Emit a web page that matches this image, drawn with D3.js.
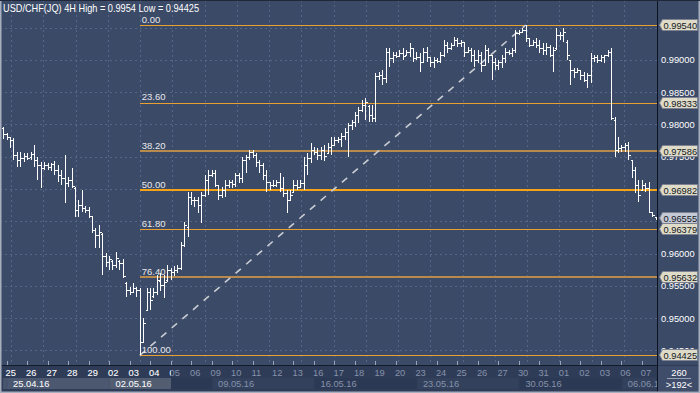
<!DOCTYPE html>
<html><head><meta charset="utf-8">
<script src="https://cdn.jsdelivr.net/npm/d3@7"></script>
<style>html,body{margin:0;padding:0;background:#3b4a67;overflow:hidden}</style>
</head><body><svg id="c" width="700" height="393"></svg>
<script>
const title = "USD/CHF(JQ) 4H High = 0.9954 Low = 0.94425";
const opens = [
0.97944,0.97851,0.97805,0.97758,0.97526,0.97449,0.97480,0.97511,0.97495,0.97542,
0.97449,0.97371,0.97325,0.97371,0.97340,0.97387,0.97294,0.97216,0.97170,0.97092,
0.97139,0.97015,0.96674,0.96752,0.96705,0.96674,0.96581,0.96364,0.96287,0.96302,
0.95962,0.95869,0.95884,0.95822,0.95884,0.95853,0.95543,0.95435,0.95404,0.95466,
0.95435,0.94629,0.95125,0.95404,0.95342,0.95404,0.95574,0.95512,0.95590,0.95745,
0.95714,0.95745,0.95776,0.96132,0.96411,0.96876,0.96829,0.96829,0.96752,0.96906,
0.97139,0.97216,0.97247,0.97061,0.96906,0.96984,0.97061,0.97108,0.97077,0.97216,
0.97170,0.97449,0.97495,0.97573,0.97526,0.97418,0.97371,0.97216,0.97108,0.97061,
0.97061,0.97108,0.97015,0.96937,0.96829,0.96953,0.97061,0.97030,0.97092,0.97371,
0.97480,0.97604,0.97573,0.97526,0.97604,0.97557,0.97650,0.97681,0.97758,0.97774,
0.97820,0.97882,0.97991,0.98037,0.98146,0.98223,0.98301,0.98285,0.98146,0.98099,
0.98750,0.98765,0.98719,0.99122,0.99029,0.99075,0.99060,0.99106,0.99075,0.99122,
0.99184,0.99029,0.99044,0.98967,0.99122,0.99044,0.98967,0.98998,0.98982,0.99075,
0.99230,0.99184,0.99230,0.99307,0.99261,0.99276,0.99122,0.99153,0.99075,0.98998,
0.99075,0.98920,0.99153,0.99075,0.98967,0.98920,0.98967,0.99029,0.99122,0.99106,
0.99153,0.99416,0.99431,0.99462,0.99338,0.99230,0.99276,0.99230,0.99184,0.99153,
0.99199,0.99075,0.99184,0.99385,0.99385,0.99276,0.98998,0.98843,0.98812,0.98843,
0.98765,0.98688,0.98765,0.99029,0.99044,0.98998,0.99044,0.99075,0.99122,0.98068,
0.97604,0.97635,0.97650,0.97681,0.97449,0.97294,0.97061,0.96984,0.97061,0.97015,
0.96643,0.96566];
const highs = [
0.97960,0.97867,0.97805,0.97789,0.97573,0.97573,0.97557,0.97557,0.97573,0.97681,
0.97495,0.97418,0.97418,0.97402,0.97402,0.97433,0.97371,0.97294,0.97526,0.97185,
0.97325,0.97030,0.96829,0.96984,0.96736,0.96721,0.96581,0.96395,0.96442,0.96318,
0.96008,0.95962,0.95900,0.96024,0.95900,0.95915,0.95559,0.95481,0.95543,0.95481,
0.95466,0.95001,0.95466,0.95466,0.95466,0.95667,0.95698,0.95667,0.95822,0.95776,
0.95807,0.95822,0.96178,0.96488,0.96953,0.96953,0.96876,0.96876,0.96953,0.97216,
0.97294,0.97294,0.97294,0.97061,0.97030,0.97139,0.97139,0.97139,0.97247,0.97247,
0.97495,0.97526,0.97604,0.97604,0.97557,0.97449,0.97402,0.97294,0.97108,0.97139,
0.97139,0.97247,0.97185,0.96984,0.96984,0.97139,0.97139,0.97139,0.97495,0.97557,
0.97712,0.97650,0.97635,0.97650,0.97681,0.97712,0.97805,0.97805,0.97805,0.97867,
0.97944,0.98022,0.98068,0.98192,0.98270,0.98378,0.98409,0.98301,0.98301,0.98796,
0.98812,0.98843,0.99184,0.99184,0.99122,0.99122,0.99153,0.99184,0.99153,0.99261,
0.99184,0.99122,0.99106,0.99184,0.99199,0.99044,0.99044,0.99029,0.99122,0.99307,
0.99276,0.99261,0.99354,0.99338,0.99307,0.99276,0.99199,0.99184,0.99153,0.99153,
0.99122,0.99230,0.99184,0.99075,0.99029,0.98998,0.99075,0.99184,0.99153,0.99184,
0.99462,0.99462,0.99493,0.99540,0.99338,0.99307,0.99338,0.99307,0.99261,0.99261,
0.99230,0.99199,0.99493,0.99431,0.99493,0.99307,0.98998,0.98874,0.98874,0.98843,
0.98812,0.98796,0.99106,0.99075,0.99075,0.99075,0.99075,0.99153,0.99184,0.98115,
0.97805,0.97681,0.97712,0.97727,0.97449,0.97340,0.97139,0.97139,0.97092,0.97108,
0.96643,0.96566];
const lows = [
0.97774,0.97758,0.97635,0.97449,0.97340,0.97340,0.97418,0.97449,0.97449,0.97340,
0.97139,0.97015,0.97294,0.97294,0.97278,0.97216,0.97108,0.97061,0.96783,0.97030,
0.97015,0.96566,0.96566,0.96643,0.96628,0.96550,0.96318,0.96086,0.96086,0.95667,
0.95791,0.95745,0.95745,0.95776,0.95745,0.95621,0.95327,0.95357,0.95388,0.95327,
0.94425,0.94629,0.95125,0.95125,0.95311,0.95357,0.95419,0.95311,0.95559,0.95590,
0.95652,0.95698,0.95745,0.96101,0.96256,0.96752,0.96721,0.96628,0.96473,0.96876,
0.96906,0.97185,0.97030,0.96829,0.96860,0.96876,0.97015,0.97015,0.97030,0.97092,
0.97092,0.97247,0.97449,0.97480,0.97340,0.97247,0.97139,0.96953,0.96984,0.97030,
0.97030,0.96953,0.96876,0.96628,0.96829,0.96953,0.96984,0.97015,0.96984,0.97216,
0.97402,0.97526,0.97449,0.97449,0.97433,0.97557,0.97526,0.97681,0.97712,0.97650,
0.97758,0.97495,0.97913,0.97960,0.98022,0.98192,0.98068,0.98037,0.98037,0.98037,
0.98688,0.98610,0.98641,0.98889,0.98951,0.99029,0.99044,0.98998,0.99075,0.99044,
0.98967,0.98998,0.98812,0.98951,0.98967,0.98889,0.98874,0.98951,0.98951,0.99044,
0.99106,0.99153,0.99230,0.99199,0.99199,0.99044,0.99106,0.98967,0.98889,0.98951,
0.98812,0.98920,0.98951,0.98688,0.98843,0.98843,0.98874,0.98951,0.99075,0.99044,
0.99106,0.99385,0.99416,0.99276,0.99199,0.99230,0.99184,0.99106,0.99075,0.99075,
0.99044,0.98812,0.99153,0.99307,0.99276,0.98998,0.98610,0.98719,0.98796,0.98688,
0.98657,0.98564,0.98641,0.98967,0.98951,0.98967,0.98951,0.99044,0.98068,0.97495,
0.97557,0.97573,0.97573,0.97449,0.97170,0.96937,0.96798,0.96984,0.96953,0.96628,
0.96566,0.96519];
const closes = [
0.97851,0.97805,0.97758,0.97526,0.97449,0.97480,0.97511,0.97480,0.97542,0.97449,
0.97371,0.97325,0.97371,0.97340,0.97387,0.97294,0.97216,0.97170,0.97092,0.97139,
0.97046,0.96674,0.96752,0.96705,0.96674,0.96581,0.96364,0.96287,0.96333,0.95962,
0.95869,0.95915,0.95822,0.95931,0.95853,0.95652,0.95435,0.95404,0.95466,0.95435,
0.94629,0.94924,0.95404,0.95280,0.95404,0.95590,0.95512,0.95559,0.95745,0.95714,
0.95745,0.95776,0.96132,0.96442,0.96876,0.96829,0.96829,0.96752,0.96906,0.97139,
0.97216,0.97247,0.97061,0.96906,0.96984,0.97061,0.97108,0.97077,0.97216,0.97170,
0.97449,0.97495,0.97573,0.97526,0.97418,0.97371,0.97216,0.97108,0.97061,0.97061,
0.97108,0.97015,0.96937,0.96829,0.96906,0.97061,0.97030,0.97092,0.97371,0.97480,
0.97604,0.97573,0.97526,0.97604,0.97511,0.97650,0.97681,0.97758,0.97774,0.97820,
0.97882,0.97991,0.98037,0.98146,0.98223,0.98301,0.98347,0.98146,0.98099,0.98750,
0.98765,0.98719,0.99122,0.99029,0.99075,0.99060,0.99106,0.99060,0.99122,0.99184,
0.99029,0.99044,0.98967,0.99122,0.99044,0.98967,0.98998,0.98982,0.99075,0.99230,
0.99184,0.99230,0.99307,0.99261,0.99276,0.99122,0.99153,0.99075,0.98998,0.99075,
0.98920,0.99153,0.99075,0.98967,0.98920,0.98967,0.99029,0.99122,0.99106,0.99153,
0.99416,0.99431,0.99462,0.99338,0.99230,0.99276,0.99230,0.99184,0.99153,0.99199,
0.99075,0.99153,0.99385,0.99385,0.99431,0.99075,0.98843,0.98812,0.98843,0.98765,
0.98688,0.98765,0.99029,0.99044,0.98998,0.99044,0.99075,0.99122,0.98099,0.97604,
0.97635,0.97650,0.97681,0.97526,0.97294,0.97061,0.96906,0.97061,0.97015,0.96643,
0.96597,0.96555];
const priceTicks = [0.945,0.950,0.955,0.960,0.965,0.970,0.975,0.980,0.985,0.990,0.995];
const fibLevels = ["0.00","23.60","38.20","50.00","61.80","76.40","100.00"];
const fibPrices = [0.99540,0.98333,0.97586,0.96982,0.96379,0.95632,0.94425];
const dayLabels = ["25","26","27","28","29","02","03","04","05","06","09","10","11","12","13","16","17","18","19","20","23","24","25","26","27","30","31","01","02","03","06","07"];
const weekLabels = ["25.04.16","02.05.16","09.05.16","16.05.16","23.05.16","30.05.16","06.06.16"];
const lastPrice = 0.96555;
const cornerTop = "260", cornerBottom = ">192<";

const svg = d3.select("#c");
const W = 700, H = 393, plotR = 657, plotB = 365;
const n = opens.length;
const lowIdx = lows.indexOf(d3.min(lows));
const highIdx = highs.indexOf(d3.max(highs));
const x = d3.scaleLinear().domain([0, n - 1]).range([3.2, 655.5]);
const y = d3.scaleLinear().domain([d3.min(lows), d3.max(highs)]).range([355.3, 25]);
const px = v => Math.round(v) + 0.5;
const FONT = "'Liberation Sans', Arial, sans-serif";

// backgrounds
svg.append("rect").attr("width", W).attr("height", H).attr("fill", "#3b4a67");
svg.append("rect").attr("x", 0).attr("y", plotB).attr("width", W).attr("height", H - plotB).attr("fill", "#2f3c58");

// grid
const grid = svg.append("g").attr("stroke", "#56668a").attr("stroke-dasharray", "2,3").attr("shape-rendering", "crispEdges");
priceTicks.forEach(t => grid.append("line").attr("x1", 0).attr("x2", plotR).attr("y1", px(y(t))).attr("y2", px(y(t))));
for (let gx = 11; gx < plotR - 2; gx += 32.26) {
  grid.append("line").attr("x1", px(gx)).attr("x2", px(gx)).attr("y1", 0).attr("y2", plotB);
}

// fib lines
const fibG = svg.append("g").attr("shape-rendering", "crispEdges");
const x0 = px(x(lowIdx));
fibPrices.forEach((p, i) => {
  const lvl = fibLevels[i];
  let col = "#e9a033", w = 1;
  if (lvl === "38.20" || lvl === "76.40") { col = "#b88a4e"; w = 2; }
  if (lvl === "50.00") { col = "#f5a316"; w = 2; }
  const yy = Math.round(y(p)) + (w === 1 ? 0.5 : 0);
  fibG.append("line").attr("x1", x0 - 0.5).attr("x2", plotR).attr("y1", yy).attr("y2", yy)
    .attr("stroke", col).attr("stroke-width", w);
});

// trend dashed line
svg.append("line")
  .attr("x1", x(lowIdx)).attr("y1", y(lows[lowIdx]))
  .attr("x2", x(highIdx)).attr("y2", y(highs[highIdx]))
  .attr("stroke", "#c9ccd3").attr("stroke-width", 1.6).attr("stroke-dasharray", "7,7");

// fib labels
fibPrices.forEach((p, i) => {
  svg.append("text").attr("x", x(lowIdx) + 2).attr("y", y(p) - 2.5)
    .attr("fill", "#e8e8ea").attr("font-family", FONT).attr("font-size", "9.5px").text(fibLevels[i]);
});

// OHLC bars
const bars = svg.append("g").attr("stroke", "#ffffff").attr("stroke-width", 1).attr("shape-rendering", "crispEdges").attr("fill", "none");
d3.range(n).forEach(i => {
  const cx = px(x(i));
  const yh = Math.round(y(highs[i])), yl = Math.round(y(lows[i]));
  const yo = px(y(opens[i])), yc = px(y(closes[i]));
  bars.append("path").attr("d",
    `M${cx},${yh}V${Math.max(yl, yh + 1)}M${cx - 2},${yo}H${cx}M${cx},${yc}H${cx + 2}`);
});

// title
svg.append("text").attr("x", 3).attr("y", 12).attr("fill", "#ffffff")
  .attr("font-family", FONT).attr("font-size", "10.5px")
  .attr("textLength", 196).attr("lengthAdjust", "spacingAndGlyphs").text(title);

// right axis
svg.append("rect").attr("x", plotR + 0.5).attr("y", 0).attr("width", W - plotR).attr("height", plotB).attr("fill", "#3b4a67");
svg.append("line").attr("x1", px(plotR)).attr("x2", px(plotR)).attr("y1", 0).attr("y2", H).attr("stroke", "#0d1220").attr("shape-rendering", "crispEdges");
svg.append("line").attr("x1", 0).attr("x2", plotR).attr("y1", px(plotB)).attr("y2", px(plotB)).attr("stroke", "#141b2b").attr("shape-rendering", "crispEdges");
const boxPrices = fibPrices.concat([lastPrice]);
priceTicks.forEach(t => {
  // tick labels fully covered by a price box are not shown
  const covered = boxPrices.some(p => Math.abs(y(p) - y(t)) < 4);
  if (covered) return;
  svg.append("text").attr("x", 661).attr("y", y(t) + 3.5).attr("fill", "#ffffff")
    .attr("font-family", FONT).attr("font-size", "9.3px").text(t.toFixed(5));
});
function priceBox(p, fill) {
  const yy = Math.round(y(p));
  svg.append("path").attr("d", `M659.5,${yy}L662.5,${yy - 5.5}H697.5V${yy + 5.5}H662.5Z`)
    .attr("fill", fill).attr("stroke", "#7d8190").attr("stroke-width", 1);
  svg.append("text").attr("x", 663.5).attr("y", yy + 3.6).attr("fill", "#15171c")
    .attr("font-family", FONT).attr("font-size", "9.3px").text(p.toFixed(5));
}
fibPrices.forEach(p => priceBox(p, "#dedcc9"));
priceBox(lastPrice, "#c3cad6");

// bottom axis
const dayX = d => x(d * 6 + 1);
const weekG = svg.append("g");
weekLabels.forEach((w, k) => {
  const xs = dayX(k * 5) + 1;
  const xe = k < weekLabels.length - 1 ? dayX((k + 1) * 5) + 1 : plotR;
  weekG.append("rect").attr("x", xs).attr("y", 378).attr("width", Math.max(0, xe - xs - 1)).attr("height", 11)
    .attr("fill", k % 2 === 0 ? "#33415d" : "#2c3954");
});
svg.append("rect").attr("x", 3).attr("y", 378).attr("width", 168).attr("height", 11).attr("fill", "#ffffff").attr("opacity", 0.12);
svg.append("rect").attr("x", 110).attr("y", 378).attr("width", 61).attr("height", 11).attr("fill", "#ffffff").attr("opacity", 0.07);

const defs = svg.append("defs");
defs.append("clipPath").attr("id", "hl").append("rect").attr("x", 0).attr("y", 360).attr("width", 171).attr("height", 40);
defs.append("clipPath").attr("id", "axc").append("rect").attr("x", 0).attr("y", 360).attr("width", plotR).attr("height", 40);
function axisTexts(g, col) {
  dayLabels.forEach((d, i) => {
    g.append("text").attr("x", dayX(i) - 1).attr("y", 376).attr("fill", col)
      .attr("font-family", FONT).attr("font-size", "9.3px").text(d);
  });
  weekLabels.forEach((w, k) => {
    g.append("text").attr("x", dayX(k * 5) + 6.5).attr("y", 387).attr("fill", col)
      .attr("font-family", FONT).attr("font-size", "9.3px").text(w);
  });
}
const axClip = svg.append("g").attr("clip-path", "url(#axc)");
axisTexts(axClip.append("g"), "#8592aa");
axisTexts(axClip.append("g").attr("clip-path", "url(#hl)"), "#f2f2f2");
dayLabels.forEach((d, i) => {
  svg.append("line").attr("x1", px(dayX(i))).attr("x2", px(dayX(i))).attr("y1", 361).attr("y2", 365)
    .attr("stroke", "#9aa4b8").attr("shape-rendering", "crispEdges");
});

// corner box
svg.append("rect").attr("x", 658).attr("y", 366).attr("width", 40).attr("height", 25).attr("fill", "#3f4d6b");
svg.append("text").attr("x", 679).attr("y", 376).attr("text-anchor", "middle").attr("fill", "#ffffff")
  .attr("font-family", FONT).attr("font-size", "9.3px").text(cornerTop);
svg.append("line").attr("x1", 667).attr("x2", 691).attr("y1", 378.5).attr("y2", 378.5).attr("stroke", "#9aa4b8");
svg.append("text").attr("x", 679).attr("y", 388).attr("text-anchor", "middle").attr("fill", "#ffffff")
  .attr("font-family", FONT).attr("font-size", "9.3px").text(cornerBottom);

// frame
svg.append("path").attr("d", `M0.5,0V${H - 0.5}H${W - 0.5}V0`).attr("fill", "none").attr("stroke", "#a7afbf").attr("stroke-width", 2);
svg.append("line").attr("x1", 0).attr("x2", W).attr("y1", 0.5).attr("y2", 0.5).attr("stroke", "#1f2738");
</script></body></html>
